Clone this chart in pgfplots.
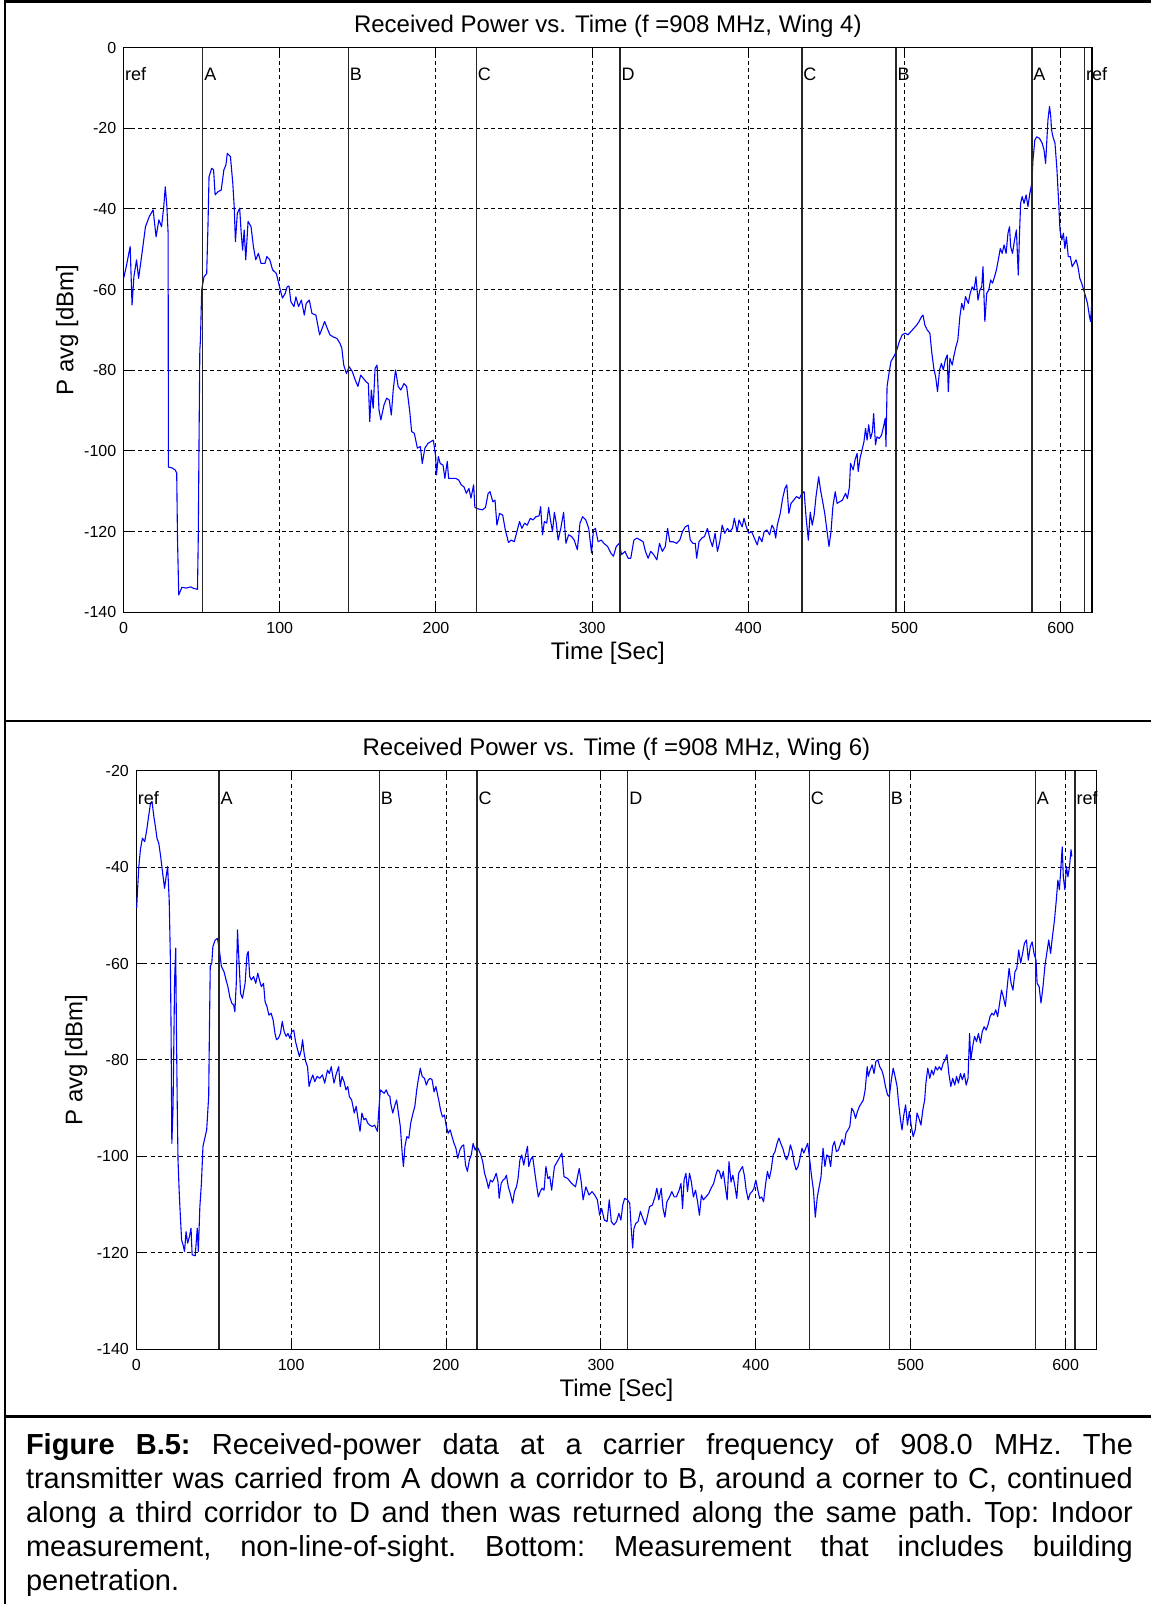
\documentclass[border=0pt]{standalone}
\usepackage{fontspec}
\setmainfont{Liberation Sans}
\usepackage{pgfplots}
\pgfplotsset{compat=1.18}

\pgfplotsset{
  matlab/.style={
    scale only axis,
    xmin=0, xmax=620,
    xtick={0,100,...,600},
    grid=major,
    major grid style={black, line width=0.5pt, dash pattern=on 2pt off 1.6pt},
    axis line style={black, line width=0.6pt},
    tick align=inside,
    xtick pos=both, ytick pos=both,
    xticklabel pos=lower, yticklabel pos=left,
    major tick length=4.5pt,
    tick style={black, line width=0.5pt},
    /pgf/number format/assume math mode=true,
    ticklabel style={font=\fontsize{8}{9}\selectfont},
    xticklabel style={inner sep=0pt, anchor=north, yshift=-4.7pt},
    yticklabel style={inner sep=0pt, anchor=east, xshift=-3.5pt},
    title style={font=\fontsize{12}{14}\selectfont, at={(0.5,1)}, anchor=base, yshift=1.7pt},
    xlabel style={font=\fontsize{12}{14}\selectfont, at={(0.5,0)}, anchor=base, yshift=-23.85pt},
    ylabel style={font=\fontsize{12}{14}\selectfont, anchor=base},
    xlabel={Time [Sec]},
    ylabel={P avg [dBm]},
    clip mode=individual,
  },
  sig/.style={blue, line width=0.55pt, line join=round, mark=none},
  mk/.style={black!85, line width=0.7pt, mark=none},
}
\tikzset{lbl/.style={anchor=base west, inner sep=0pt, xshift=0.6pt, font=\fontsize{9}{10}\selectfont}}

\begin{document}
\begin{tikzpicture}
\path[use as bounding box] (0,0) rectangle (575.5pt,802pt);

% ---------- top: Wing 4
\begin{axis}[matlab,
  at={(61.8pt,495.85pt)}, anchor=south west,
  width=484.2pt, height=282.3pt,
  ymin=-140, ymax=0, ytick={-140,-120,...,0},
  ylabel style={at={(axis description cs:-0.0519,0.5)}},
  title={Received Power vs. Time (f =908 MHz, Wing 4)}]
\addplot[sig] coordinates {
(0,-57.2)(1.7,-54.3)(4.2,-49.3)(5.4,-63.8)(6.6,-56.8)(8.3,-52.6)(9.6,-57.2)(11.5,-51.8)(14,-44.4)(16.4,-41.9)
(18.9,-40.2)(20.8,-46.9)(22.6,-42.7)(24.3,-44.4)(25.7,-39.4)(26.7,-34.5)(27.7,-39.4)(28.5,-46)(28.7,-104)(31,-104.2)
(33,-104.7)(34,-105.5)(34.5,-121.6)(35.3,-135.7)(37.3,-133.8)(40,-134)(43,-133.7)(45,-134.1)(47.3,-134.3)(47.8,-121.7)
(48.3,-97.3)(48.8,-75)(49.2,-72.5)(50,-60)(51.5,-56.8)(53.2,-56)(54,-44.4)(54.7,-32)(56.4,-29.9)(57.6,-30.3)
(58.6,-36.5)(60.5,-35.7)(62.5,-35.3)(64.2,-30.3)(65.5,-29.1)(66.4,-26.2)(68.4,-27)(69.9,-33.6)(70.8,-39.4)(71.6,-48.1)
(72.8,-41.1)(74.3,-39.8)(75.3,-46)(76.2,-50.2)(77.2,-45.2)(78.2,-52.6)(79.7,-43.1)(81.6,-44.4)(83.1,-49.3)(84.6,-52.6)
(86.3,-51)(88,-53.5)(90.5,-53.5)(91.7,-51.8)(93.6,-52.6)(95.4,-55.1)(97.8,-56)(99.8,-59.3)(101.7,-62.1)(103.5,-60.9)
(104.7,-59.3)(105.9,-59.1)(107.1,-63)(109.1,-64.2)(110.3,-61.8)(112,-64.2)(113.8,-62.6)(115.7,-66.3)(116.9,-63.4)(118.9,-62.6)
(120.6,-65.9)(123.1,-66.3)(125.5,-71.2)(126.7,-70)(128.7,-67.9)(130.4,-69.6)(132.1,-71.2)(134.1,-71.7)(136.6,-72.1)(138.5,-73.3)
(139.7,-74.5)(140.3,-76.6)(141,-78.8)(142.7,-80.8)(144.4,-79.1)(146.4,-80.3)(148.3,-82.4)(150,-84)(151.8,-81.2)(153.7,-82.1)
(155.4,-82.9)(156.7,-83.3)(157.6,-92.7)(158.6,-84.9)(159.8,-89.4)(161,-79.5)(162.3,-78.7)(163.5,-89.8)(164.7,-92.3)(166.7,-88.6)
(168.4,-86.9)(170.1,-87.4)(171.4,-91.1)(172.6,-84.9)(174.1,-79.9)(175.8,-84)(177.5,-84.9)(179.5,-83.3)(181.2,-84)(183.2,-90.2)
(184.4,-95.2)(186.1,-95.6)(188.1,-99.3)(190,-98.9)(191.2,-103.1)(192.9,-99.3)(194.9,-98.1)(196.6,-97.7)(198.3,-97.3)(199.8,-101.4)
(200.3,-105.9)(201.5,-101.4)(202.7,-103.1)(204.5,-103.5)(205.7,-106.8)(207.2,-102.6)(208.1,-106.8)(210.1,-106.8)(212.6,-106.8)(214.5,-107.2)
(216.2,-108.4)(217.9,-108.9)(219.4,-110.5)(221.1,-109.3)(222.4,-111.7)(224.1,-108.4)(224.9,-114)(227.3,-114.4)(229.7,-114.6)(231.7,-114)
(233.4,-110.5)(234.6,-110.1)(236.4,-112.6)(237.8,-112.2)(239,-118.4)(240.7,-115.5)(242.7,-115.9)(244.4,-119.6)(246.4,-122.7)(248.1,-122.1)
(250.1,-122.5)(251.8,-120)(253.5,-117.5)(255,-119.2)(256.7,-117.9)(258.4,-118.4)(260.4,-116.7)(262.1,-117.1)(264,-116.3)(266,-116.1)
(267,-113.8)(268.2,-120.8)(269.4,-117.5)(270.9,-117.9)(272.1,-114)(273.3,-117.1)(274.6,-120)(275.8,-115.2)(277,-117.9)(278.2,-122.1)
(279.9,-119.2)(281.7,-115.2)(283.2,-122.9)(284.9,-120.8)(286.8,-121.2)(288.5,-122.1)(290.5,-124.5)(292.2,-117.9)(293.9,-116.3)(295.9,-117.1)
(297.8,-119.2)(299.6,-125.3)(300.8,-119.6)(302.1,-119.2)(303.8,-122.5)(305.8,-122.1)(307.5,-122.9)(309.9,-123.7)(311.9,-125.3)(313.6,-126.1)
(315.4,-123.7)(317.3,-122.9)(318.8,-125.7)(321,-124.9)(323,-126.6)(324.7,-126.6)(326.7,-122.1)(328.6,-121.6)(330.9,-122.1)(332.6,-122.5)
(334.1,-124.9)(335.8,-126.6)(337.5,-124.9)(339.4,-125.7)(341.4,-127)(343.1,-122.9)(344.9,-124.9)(346.8,-123.7)(348.3,-119.2)(349.7,-122.5)
(351.7,-122.5)(354.1,-122.9)(356.1,-122.1)(357.8,-120)(359.6,-118.8)(361.5,-118.4)(362.8,-122.1)(364.5,-122.9)(366,-122.9)(366.9,-126.6)
(368.4,-122.5)(370.2,-121.6)(371.9,-121.2)(373.8,-119.2)(375.6,-122.1)(377,-123.7)(378.7,-120.4)(380.2,-124.9)(381.7,-122.5)(383.2,-118.4)
(384.9,-120.4)(386.6,-119.2)(388.1,-120)(389.8,-119.2)(391,-116.7)(392.8,-120)(394,-117.1)(396,-118.8)(397.2,-116.7)(398.4,-118.4)
(400.1,-120.4)(402.1,-120)(403.8,-121.6)(405.7,-123.3)(406.9,-121.2)(408.7,-122.5)(410.1,-120)(411.9,-119.6)(413.6,-120.8)(415.1,-118.4)
(416.3,-119.2)(417.5,-121.6)(418.5,-118.4)(420.4,-115.5)(421.9,-111.8)(423.4,-109.3)(424.6,-108.4)(425.9,-115.5)(427.3,-113)(429,-112.2)
(430.8,-111.3)(432.7,-111.8)(434.2,-110.5)(435.7,-110.1)(436.9,-116.3)(438.4,-122.1)(439.6,-115.2)(440.9,-118.4)(442.1,-115.9)(443.3,-111.3)
(445,-106.4)(446.2,-109.7)(447.4,-112.2)(448.9,-115.5)(450.4,-120)(451.6,-123.7)(452.9,-120)(454.1,-113.8)(455.6,-110.1)(456.8,-113)
(458.5,-112.6)(460.2,-112.2)(462.2,-110.5)(463.4,-111.8)(464.7,-108.9)(465.4,-103.1)(467.1,-104.7)(468.3,-102.2)(469.6,-100.6)(470.3,-105.1)
(471.5,-101.8)(472.8,-99.7)(474,-97.7)(475,-94.4)(476,-97.3)(477,-93.5)(478.2,-96.9)(479.4,-95.2)(480.2,-90.7)(481.4,-98.5)
(482.3,-96.5)(483.8,-96.9)(485.3,-96)(486.8,-93.5)(487.6,-91.9)(488.1,-98.9)(488.8,-84)(490,-80.8)(491.3,-77.8)(492.5,-77)
(493.7,-76.2)(495.4,-74.5)(496.6,-72.9)(498.5,-71.2)(500.3,-70.8)(502.2,-71.2)(504,-70.4)(505.9,-69.6)(507.7,-68.8)(509.3,-67.9)
(510.8,-66.7)(511.8,-66.3)(513,-68.8)(514.5,-70)(516.2,-70.8)(517.4,-75.5)(518.7,-79.5)(519.9,-81.6)(521.1,-85.3)(522.4,-79.9)
(523.6,-78.3)(524.8,-79.9)(526.1,-77.4)(527.3,-76.2)(528,-85.3)(529,-77)(530.5,-78.7)(531.7,-76.2)(532.4,-75)(532.9,-74.1)
(534.1,-72.5)(535.4,-66.7)(536.6,-63.4)(537.8,-65)(539,-61.7)(540.8,-63.4)(542,-60.9)(543.3,-59.3)(544.5,-60.1)(545.7,-56.8)
(547,-62.6)(548.2,-60.1)(549.4,-59.3)(550.2,-54.3)(551.4,-67.9)(552.6,-60.9)(553.9,-60.1)(555.1,-57.6)(556.3,-58.4)(557.6,-56.8)
(558.8,-55.1)(560,-52.6)(561.3,-49.8)(562.5,-51)(563.7,-48.9)(565,-51)(566.2,-46)(567.2,-44.4)(567.9,-49.3)(569.1,-51)
(570.4,-47.7)(571.6,-45.2)(572.8,-56.4)(573.6,-46)(574.3,-38.6)(575.3,-36.9)(576.5,-38.6)(577.8,-36.5)(579,-39.4)(580.2,-36.1)
(581.5,-33.6)(582.2,-27.9)(583.4,-22.9)(584.6,-22.1)(586.4,-22.5)(588.1,-23.7)(589.3,-25.4)(590.3,-28.7)(591.1,-22.9)(591.8,-17.9)
(592.8,-14.6)(593.6,-17.1)(594.1,-20.4)(595,-22.1)(596.3,-23.7)(597.5,-29.9)(598.7,-38.6)(599.5,-45.2)(600.7,-47.7)(601.7,-46)
(602.6,-49.8)(603.6,-46.9)(604.8,-51.8)(606.1,-51.8)(607.3,-54.3)(608.5,-53.5)(609.8,-52.6)(611,-54.3)(612.2,-57.2)(613.4,-58.4)
(614.7,-60.1)(615.9,-61.7)(617.1,-63.4)(618.4,-66.7)(619.1,-67.9)(620,-62.6)
};
\pgfplotsinvokeforeach{50.7,143.9,225.8,317.9,434.2,494.6,581.5,615.2}{
  \addplot[mk] coordinates {(#1,0) (#1,-140)};
}
\node[lbl] at (axis cs:0,-8.26) {ref};
\node[lbl] at (axis cs:50.7,-8.26) {A};
\node[lbl] at (axis cs:143.9,-8.26) {B};
\node[lbl] at (axis cs:225.8,-8.26) {C};
\node[lbl] at (axis cs:317.9,-8.26) {D};
\node[lbl] at (axis cs:434.2,-8.26) {C};
\node[lbl] at (axis cs:494.6,-8.26) {B};
\node[lbl] at (axis cs:581.5,-8.26) {A};
\node[lbl] at (axis cs:615.2,-8.26) {ref};
\end{axis}

% ---------- bottom: Wing 6
\begin{axis}[matlab,
  at={(68.1pt,127.35pt)}, anchor=south west,
  width=480.2pt, height=289.3pt,
  ymin=-140, ymax=-20, ytick={-140,-120,...,-20},
  ylabel style={at={(axis description cs:-0.0561,0.5)}},
  title={Received Power vs. Time (f =908 MHz, Wing 6)}]
\addplot[sig] coordinates {
(0.3,-48.5)(1,-44)(1.7,-39.9)(2.7,-36.4)(4,-34)(5.5,-34.7)(6.8,-32.3)(8,-29.5)(9.2,-26.8)(10.2,-26.4)
(11.4,-29.5)(12.4,-31.6)(13.4,-34)(14.6,-35.1)(15.8,-37.8)(17.1,-41.3)(18.3,-44.4)(19.3,-42)(20.3,-39.9)(21.3,-46.8)
(22,-57.9)(22.5,-73.1)(23,-97.3)(23.8,-89.6)(24.8,-63.4)(25.5,-56.8)(26,-74.5)(26.5,-89.5)(27,-100.7)(27.7,-106.9)
(28.2,-110.4)(29.3,-117.3)(30.2,-118.3)(31.2,-119.7)(32.2,-115.6)(33.2,-118)(34.4,-116.6)(35.4,-114.9)(36.1,-120.4)(38.1,-120.6)
(39.4,-114.9)(40.1,-119.7)(41.1,-110.4)(42.1,-105.6)(43.1,-97.9)(44.3,-96.2)(45.5,-94.5)(46.8,-87.5)(47.3,-73.1)(47.8,-60.6)
(48.8,-59.9)(49.5,-56.5)(51,-55.1)(52.5,-54.8)(53.7,-57.2)(55,-60.6)(56.7,-61.7)(58,-63.4)(59.2,-64.8)(60.4,-66.9)
(61.7,-68.2)(62.9,-68.6)(63.7,-70)(64.6,-64.1)(65.4,-53)(66.1,-57.9)(67.4,-66.2)(68.6,-67.2)(70.3,-64.1)(71.5,-58.2)
(72.3,-57.5)(73.3,-62.7)(74.3,-63.4)(75.8,-62.7)(77.2,-64.1)(78.5,-62)(79.8,-63.7)(80.8,-64.8)(82.2,-64.1)(83.2,-67.9)
(84.4,-68.9)(85.7,-70.7)(87.1,-70.3)(88.4,-71.7)(89.6,-74.5)(90.6,-75.8)(91.8,-75.5)(93.1,-74.5)(94.3,-72)(95.5,-74.1)
(96.8,-75.1)(98,-74.5)(99.2,-75.5)(100.5,-74.1)(101.7,-73.8)(102.9,-76.2)(104.2,-77.9)(105.4,-79.3)(106.6,-77.9)(107.4,-75.8)
(108.4,-78.6)(109.4,-80.3)(110.6,-81.4)(111.6,-85.5)(112.8,-84.1)(114,-83.1)(115.3,-84.5)(116.8,-83.4)(118.5,-83.8)(120.2,-83.1)
(121.7,-84.8)(123.5,-82.1)(124.7,-82.8)(125.9,-81.4)(127.7,-84.8)(129.2,-82.8)(130.7,-81.4)(131.7,-85.5)(132.9,-83.4)(134.2,-84.5)
(135.4,-86.2)(136.6,-85.5)(137.6,-87.6)(139.1,-88.3)(140.8,-91)(142,-89.6)(143.3,-92.4)(144.5,-94.8)(145.7,-91)(147,-92.4)
(148.2,-92.1)(149.5,-93.1)(150.7,-93.5)(152.4,-93.8)(153.9,-93.5)(155.7,-94.8)(156.8,-89.6)(157.6,-86.2)(158.9,-86.6)(160.1,-86.9)
(161.4,-86.2)(162.6,-87.2)(163.8,-87.6)(164.3,-89)(165.6,-91)(166.8,-89.6)(168.1,-88.3)(169.3,-91)(170.5,-93.8)(171.8,-99.7)
(172.5,-102.1)(173.5,-97.9)(174.7,-95.9)(176,-96.2)(177.2,-93.1)(178.7,-91)(179.9,-89.6)(181.1,-86.2)(182.1,-84.1)(183.4,-81.7)
(184.6,-83.4)(186.1,-83.8)(187.3,-85.2)(188.6,-84.1)(189.8,-83.8)(191,-84.1)(192.3,-86.6)(193.5,-85.5)(194.8,-87.6)(195.3,-88.3)
(196.5,-90.4)(197.7,-91.8)(199,-91.4)(200.2,-93.8)(201.4,-95.2)(202.7,-94.5)(203.9,-95.9)(205.2,-97.3)(206.4,-98.3)(207.6,-100.4)
(208.9,-98.7)(210.1,-97.9)(211.4,-97.6)(212.6,-101.8)(213.8,-103.1)(215.1,-100.7)(216.3,-99.7)(217.5,-97.3)(218.8,-98.7)(220,-97.9)
(221.2,-98.7)(222.5,-99.7)(223.7,-101.1)(224.9,-103.5)(226.2,-104.9)(227.4,-106.6)(228.7,-104.9)(229.9,-105.3)(231.1,-104.6)(232.4,-103.5)
(233.6,-105.3)(234.3,-108.7)(235.6,-105.6)(236.8,-104.9)(238,-104.6)(239,-103.9)(240.2,-106.3)(241.5,-107.7)(243,-109.7)(244.2,-107.3)
(245.5,-106.3)(246.5,-104.6)(247.7,-100.7)(248.9,-99.7)(250.2,-101.8)(251.4,-99.7)(252.6,-97.9)(253.4,-102.1)(254.6,-100.7)(255.9,-100)
(257.1,-102.8)(258.3,-105.6)(259.6,-108.4)(260.8,-107.3)(262,-106.6)(263.3,-107)(264.5,-102.1)(265.8,-104.6)(267,-104.2)(268.2,-107)
(270,-102.1)(272.5,-100.7)(274.8,-99.3)(276.2,-104.2)(278.6,-104.6)(281.1,-105.6)(283.6,-106.3)(286,-102.5)(287.3,-105.3)(288.5,-109)
(290.3,-106.3)(292.3,-108)(294.3,-107.3)(296,-108)(297.7,-109)(299.2,-112.2)(300.5,-110.8)(302.2,-113.2)(304,-113.5)(305.4,-109)
(306.7,-113.5)(308.4,-114.2)(310.1,-113.5)(311.6,-111.8)(312.9,-113.2)(314.1,-110.1)(315.3,-108.7)(317.1,-109)(318.6,-109.7)(319.5,-114.6)
(320.5,-119)(321.3,-115)(322.5,-113.9)(324,-113.5)(325.5,-111.4)(327,-112.8)(328.7,-114.2)(330.2,-112.2)(331.4,-110.4)(333.2,-110.1)
(334.9,-108.4)(336.1,-106.6)(337.4,-109)(338.9,-106.6)(340.1,-110.8)(341.3,-112.6)(342.6,-109.4)(344.3,-108.4)(345.8,-107.3)(347.3,-108.4)
(348.7,-108.4)(350.5,-107)(351.7,-105.6)(352.7,-110.8)(353.7,-104.9)(354.9,-103.5)(355.9,-107.3)(357.2,-103.5)(358.4,-105.3)(359.7,-108.4)
(361.1,-107)(362.4,-109.4)(363.6,-112.2)(364.9,-108)(366.1,-109)(367.8,-108.4)(369.6,-107.7)(371.1,-106.6)(372.8,-105.6)(374.1,-103.9)
(375.3,-102.8)(376.5,-103.1)(377.8,-104.6)(379,-103.1)(380.3,-106.3)(381.5,-109)(382.7,-101.1)(384,-105.3)(385.2,-103.9)(386.4,-106)
(387.7,-108.7)(388.9,-103.5)(390.1,-102.8)(391.4,-102.1)(392.6,-103.9)(393.8,-107)(395.1,-109)(396.3,-107.7)(397.6,-107.3)(398.8,-106.6)
(400,-104.9)(401.3,-107)(402.5,-108.7)(403.8,-108.4)(405,-109.4)(406.2,-106)(407.5,-103.1)(408.7,-104.6)(409.9,-102.8)(411.2,-99.7)
(412.4,-99)(413.7,-97.3)(414.9,-96.2)(416.1,-97.3)(417.4,-98.3)(418.6,-99.7)(419.8,-100.7)(421.1,-99.7)(422.3,-97.6)(423.6,-99)
(424.8,-101.4)(426,-102.8)(427.3,-102.1)(428.5,-100.4)(429.8,-98.3)(431,-99.3)(432.2,-98.3)(433.5,-97.3)(434.7,-100.4)(435.9,-103.9)
(437.2,-107)(438.4,-112.6)(439.7,-108.4)(440.9,-106.3)(442.1,-104.2)(443.4,-98.3)(444.6,-102.1)(445.8,-99.7)(447.1,-100)(448.3,-102.1)
(449.6,-97.9)(450.8,-96.9)(452,-99)(453.3,-98.7)(454.5,-97.6)(455.7,-96.5)(457,-97.6)(458.2,-95.2)(459.5,-94.5)(460.7,-93.8)
(461.9,-90)(463.2,-90.7)(464.4,-92.1)(465.6,-90.7)(466.9,-89.6)(468.1,-89)(469.4,-88.3)(470.6,-86.2)(471.9,-81.4)(472.6,-83.4)
(473.8,-82.1)(475.1,-81)(476.3,-82.8)(477.5,-80.3)(478.8,-80)(480,-81.4)(481.3,-82.1)(482.5,-83.4)(483.7,-85.5)(485,-87.2)
(486.2,-87.6)(487.5,-84.1)(488.7,-81.7)(489.9,-83.4)(491.2,-85.5)(492.2,-89)(493.4,-92.4)(494.4,-94.5)(495.4,-91.7)(496.7,-89.3)
(497.9,-93.5)(499.1,-90.7)(500.4,-93.8)(501.6,-95.9)(502.9,-94.5)(504.1,-91)(505.3,-92.1)(506.6,-93.5)(507.8,-90.4)(509,-88.3)
(509.8,-84.8)(511,-81.7)(512.3,-83.8)(513.5,-82.1)(514.7,-83.1)(516,-81.4)(517.2,-82.1)(518.5,-81.4)(519.7,-82.1)(520.9,-80.7)
(522.2,-80)(523.4,-78.9)(524.6,-82.8)(525.9,-85.5)(527.1,-83.8)(528.4,-85.2)(529.6,-83.4)(530.8,-84.8)(532.1,-82.8)(533.3,-84.1)
(534.6,-82.8)(535.8,-85.2)(537,-83.8)(538,-74.5)(538.8,-80)(540,-77.2)(541.2,-75.1)(542.5,-76.2)(543.7,-74.5)(545,-76.5)
(546.2,-74.1)(547.4,-73.1)(548.7,-73.8)(549.9,-72.7)(551.2,-71)(552.4,-70.3)(553.6,-70.7)(554.9,-69.6)(556.1,-71)(557.4,-68.2)
(558.6,-65.5)(559.8,-66.9)(561.1,-68.9)(562.3,-64.8)(563.5,-61)(564.8,-64.1)(566,-65.5)(567.3,-61.7)(568.5,-61)(569.7,-57.2)
(571,-59.9)(572.2,-57.9)(573.4,-55.8)(574.7,-55.1)(575.9,-59.3)(577.2,-56.5)(578.4,-55.5)(579.6,-57.9)(580.9,-59.3)(581.6,-64.1)
(582.9,-64.8)(584.1,-68.2)(585.4,-64.8)(586.6,-60.6)(587.8,-57.9)(589.1,-55.1)(590.3,-57.9)(591.5,-54.4)(592.8,-51)(594,-46.8)
(595,-42.7)(596,-44.7)(597,-39.9)(597.8,-35.8)(598.5,-42)(599.5,-44.7)(600.5,-39.9)(601.5,-42)(602.5,-39.9)(603.5,-36.4)(604,-37.8)
};
\pgfplotsinvokeforeach{53.5,156.9,220,317.3,434.5,486.2,580.4,606}{
  \addplot[mk] coordinates {(#1,-20) (#1,-140)};
}
\node[lbl] at (axis cs:0,-27.1) {ref};
\node[lbl] at (axis cs:53.5,-27.1) {A};
\node[lbl] at (axis cs:156.9,-27.1) {B};
\node[lbl] at (axis cs:220,-27.1) {C};
\node[lbl] at (axis cs:317.3,-27.1) {D};
\node[lbl] at (axis cs:434.5,-27.1) {C};
\node[lbl] at (axis cs:486.2,-27.1) {B};
\node[lbl] at (axis cs:580.4,-27.1) {A};
\node[lbl] at (axis cs:606,-27.1) {ref};
\end{axis}

% frame lines
\draw[line width=1.4pt] (2.5pt,0pt) -- (2.5pt,802pt);
\draw[line width=1.4pt] (2.5pt,801.3pt) -- (575.5pt,801.3pt);
\draw[line width=1.4pt] (2.5pt,441.5pt) -- (575.5pt,441.5pt);
\draw[line width=1.4pt] (2.5pt,93.65pt) -- (575.5pt,93.65pt);

% caption
\node[anchor=base west, inner sep=0pt] at (12.8pt,74.5pt) {\parbox[t]{553.5pt}{%
\fontsize{14.5}{16.9}\selectfont\frenchspacing\tolerance=9999\hbadness=10000\parindent=0pt
\textbf{Figure B.5:} Received-power data at a carrier frequency of 908.0 MHz. The\linebreak
transmitter was carried from A down a corridor to B, around a corner to C, continued\linebreak
along a third corridor to D and then was returned along the same path. Top: Indoor\linebreak
measurement, non-line-of-sight. Bottom: Measurement that includes building\linebreak
penetration.}};
\end{tikzpicture}
\end{document}
